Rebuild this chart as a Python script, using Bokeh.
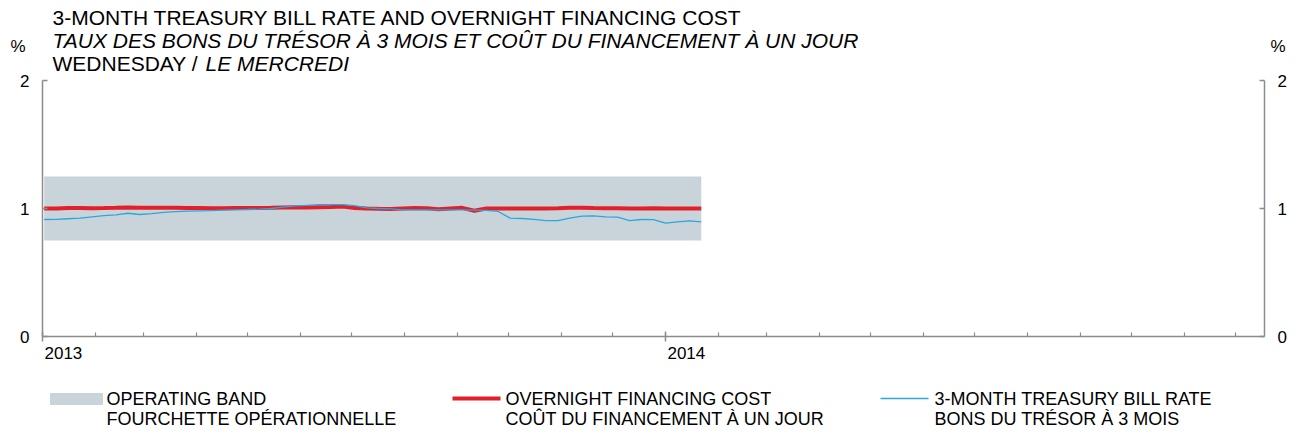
import datetime as dt
from bokeh.plotting import figure
from bokeh.models import Range1d, LinearAxis, FixedTicker, Label
from bokeh.embed import file_html
from bokeh.resources import INLINE
from bokeh.core.properties import value

# ---------------- data ----------------
first_wednesday = dt.datetime(2013, 1, 2)
n_weeks = 56
week_dates = [first_wednesday + dt.timedelta(days=7 * i) for i in range(n_weeks)]

overnight_cost = [
    1.000, 1.000, 1.003, 1.003, 1.002, 1.003, 1.005, 1.008, 1.005, 1.005,
    1.006, 1.005, 1.004, 1.003, 1.002, 1.002, 1.003, 1.003, 1.003, 1.005,
    1.008, 1.010, 1.008, 1.010, 1.012, 1.015, 1.003, 1.000, 0.998, 0.997,
    1.000, 1.003, 1.002, 0.995, 1.000, 1.005, 0.982, 1.000, 1.000, 1.000,
    1.000, 1.000, 1.000, 1.002, 1.005, 1.005, 1.003, 1.002, 1.002, 1.000,
    1.000, 1.002, 1.000, 1.000, 1.000, 1.000,
]
tbill_rate = [
    0.914, 0.915, 0.920, 0.925, 0.935, 0.945, 0.950, 0.963, 0.953, 0.960,
    0.970, 0.975, 0.980, 0.982, 0.984, 0.987, 0.990, 0.992, 0.995, 1.000,
    1.010, 1.020, 1.025, 1.030, 1.030, 1.030, 1.022, 1.005, 1.000, 0.997,
    0.990, 0.990, 0.990, 0.990, 0.990, 0.990, 0.988, 0.985, 0.977, 0.925,
    0.922, 0.915, 0.906, 0.905, 0.925, 0.940, 0.942, 0.935, 0.933, 0.906,
    0.914, 0.913, 0.885, 0.895, 0.903, 0.896,
]
band_lower = 0.75
band_upper = 1.25

y_ticks = [0, 1, 2]
year_labels = ["2013", "2014"]

title_1 = "3-MONTH TREASURY BILL RATE AND OVERNIGHT FINANCING COST"
title_2 = "TAUX DES BONS DU TRÉSOR À 3 MOIS ET COÛT DU FINANCEMENT À UN JOUR"
title_3a = "WEDNESDAY / "
title_3b = "LE MERCREDI"
legend_lines = [
    ("OPERATING BAND", "FOURCHETTE OPÉRATIONNELLE"),
    ("OVERNIGHT FINANCING COST", "COÛT DU FINANCEMENT À UN JOUR"),
    ("3-MONTH TREASURY BILL RATE", "BONS DU TRÉSOR À 3 MOIS"),
]

# ---------------- styling / layout ----------------
BAND = "#C9D4DA"
RED = "#E3202A"
BLUE = "#2BA6DF"
AXIS = "#8C8C8C"
FONT = "Liberation Sans"

X0 = dt.datetime(2013, 1, 1)
X1 = dt.datetime(2014, 12, 18)
EPOCH = dt.datetime(1970, 1, 1)


def ms(d):
    return (d - EPOCH).total_seconds() * 1000.0


W, H = 1296, 430
OFF = 0  # observed offset of the canvas in the screenshot
FL, FR, FT, FB = 42 - OFF, 1264 - OFF, 80 - OFF, 336 - OFF  # axis box, canvas px


def X(page_x):
    cx = page_x - OFF
    return ms(X0) + (cx - FL) / (FR - FL) * (ms(X1) - ms(X0))


def Y(page_y):
    cy = page_y - OFF
    return (FB - cy) / (FB - FT) * 2.0


p = figure(
    width=W, height=H, x_axis_type="datetime",
    x_range=Range1d(X(OFF), X(OFF + W)), y_range=Range1d(Y(OFF + H), Y(OFF)),
    output_backend="svg", toolbar_location=None, min_border=0,
)
p.outline_line_color = None
p.grid.visible = False

p.varea(x=week_dates, y1=[band_lower] * n_weeks, y2=[band_upper] * n_weeks,
        color=BAND)
p.line(week_dates, overnight_cost, color=RED, line_width=4)
p.line(week_dates, tbill_rate, color=BLUE, line_width=1.3)

# x axis (at y = 0)
months = [dt.datetime(2013 + m // 12, m % 12 + 1, 1) for m in range(24)]
xa = p.xaxis[0]
xa.fixed_location = 0
xa.bounds = (ms(X0), ms(X1))
xa.ticker = FixedTicker(ticks=[ms(dt.datetime(2013, 1, 1)), ms(dt.datetime(2014, 1, 1))],
                        minor_ticks=[ms(m) for m in months])
xa.axis_line_color = AXIS
xa.axis_line_width = 1.5
xa.major_tick_line_color = AXIS
xa.major_tick_line_width = 1.5
xa.major_tick_in = 5
xa.major_tick_out = 5
xa.minor_tick_line_color = AXIS
xa.minor_tick_line_width = 1.2
xa.minor_tick_in = 4
xa.minor_tick_out = 0
xa.major_label_text_alpha = 0
xa.major_label_text_font_size = "1px"

common = dict(text_font=FONT, text_color="#000000", text_baseline="middle",
              text_align="left")

for lab, year in zip(year_labels, [2013, 2014]):
    p.add_layout(Label(x=ms(dt.datetime(year, 1, 1)), y=Y(352), text=lab,
                       x_offset=2, text_font_size="17px", **common))

# y axes at both ends of the time span
ya = p.yaxis[0]
ya.fixed_location = ms(X0)
ra = LinearAxis(fixed_location=ms(X1))
p.add_layout(ra, "right")
for ax in (ya, ra):
    ax.bounds = (0, 2)
    ax.ticker = FixedTicker(ticks=y_ticks, minor_ticks=[])
    ax.axis_line_color = AXIS
    ax.axis_line_width = 1.5
    ax.major_tick_line_color = AXIS
    ax.major_tick_line_width = 1.5
    ax.major_tick_in = 5
    ax.major_tick_out = 0
    ax.minor_tick_line_color = None
    ax.major_label_text_font = FONT
    ax.major_label_text_font_size = "17px"
    ax.major_label_text_color = "#000000"
    ax.major_label_standoff = 13

# title and unit labels
p.add_layout(Label(x=X(52), y=Y(17), text=title_1, text_font_size="21px", **common))
p.add_layout(Label(x=X(52), y=Y(40), text=title_2, text_font_size="21px",
                   text_font_style="italic", **common))
p.add_layout(Label(x=X(52), y=Y(63), text=title_3a, text_font_size="21px", **common))
p.add_layout(Label(x=X(52 + 153), y=Y(63), text=title_3b, text_font_size="21px",
                   text_font_style="italic", **common))
p.add_layout(Label(x=X(10), y=Y(46), text="%", text_font_size="17px", **common))
p.add_layout(Label(x=X(1270), y=Y(46), text="%", text_font_size="17px", **common))

# ---------------- legend ----------------
p.quad(left=[X(50)], right=[X(102)], top=[Y(393)], bottom=[Y(404)], color=BAND)
p.line([X(452), X(500)], [Y(398), Y(398)], color=RED, line_width=4)
p.line([X(880), X(928)], [Y(398), Y(398)], color=BLUE, line_width=1.3)
tx = [X(106), X(106), X(505), X(505), X(934), X(934)]
ty = [Y(398), Y(418)] * 3
tt = [s for pair in legend_lines for s in pair]
p.text(x=tx, y=ty, text=tt, text_font=value(FONT), text_font_size="18px",
       text_baseline="middle", text_align="left", text_color="#000000")

open("out.html", "w").write(file_html(p, INLINE))
